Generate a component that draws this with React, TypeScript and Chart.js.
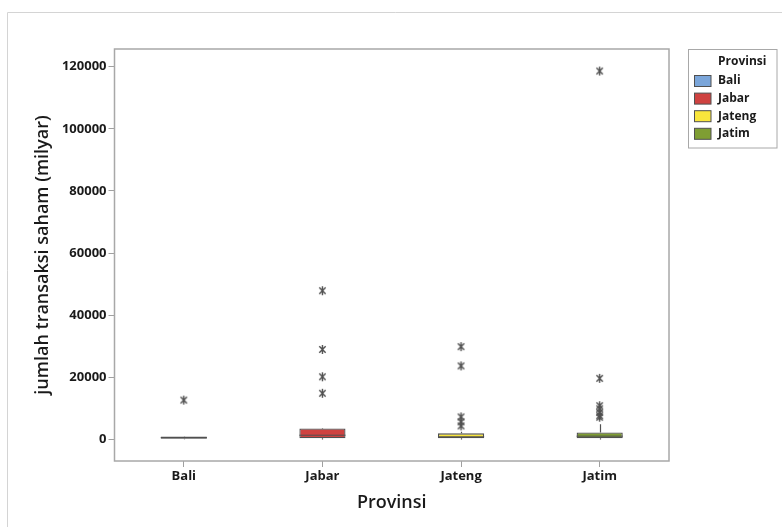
import React, { useEffect, useRef } from "react";
import { Chart, registerables } from "chart.js";

Chart.register(...registerables);

const categories = ["Bali", "Jabar", "Jateng", "Jatim"];
const boxColors = ["#7BA6DA", "#CF4240", "#F9E63C", "#7F9E33"];
const q1Values = [300, 400, 400, 400];
const medianValues = [600, 1400, 900, 1100];
const q3Values = [1000, 3600, 2000, 2300];
const whiskerLow = [100, 0, 0, 0];
const whiskerHigh = [1100, 3700, 2500, 4900];
const outliersBali = [12700];
const outliersJabar = [47900, 29000, 20200, 14900];
const outliersJateng = [29900, 23700, 7300, 5700, 4400];
const outliersJatim = [118600, 19700, 10900, 9900, 8700, 7700, 7200];
const yTickValues = [0, 20000, 40000, 60000, 80000, 100000, 120000];
const legendTitle = "Provinsi";
const xTitle = "Provinsi";
const yTitle = "jumlah transaksi saham (milyar)";

const FONT = "'Open Sans', 'Noto Sans', sans-serif";
const EDGE = "#505050";

function makeAsterisk(): HTMLCanvasElement {
  const c = document.createElement("canvas");
  c.width = 11;
  c.height = 11;
  const g = c.getContext("2d")!;
  g.strokeStyle = "#505050";
  g.lineWidth = 1.4;
  g.lineCap = "butt";
  const cx = 5.5, cy = 5.5, r = 4.5;
  g.beginPath();
  g.moveTo(cx, cy - r);
  g.lineTo(cx, cy + r);
  for (const ang of [Math.PI / 4, -Math.PI / 4]) {
    const dx = Math.cos(ang) * r, dy = Math.sin(ang) * r;
    g.moveTo(cx - dx, cy - dy);
    g.lineTo(cx + dx, cy + dy);
  }
  g.stroke();
  return c;
}

const boxExtras = {
  id: "boxExtras",
  beforeDraw(chart: any) {
    const ctx = chart.ctx;
    ctx.save();
    ctx.strokeStyle = "#d4d4d4";
    ctx.lineWidth = 1;
    ctx.beginPath();
    ctx.moveTo(7.5, 530);
    ctx.lineTo(7.5, 12.5);
    ctx.lineTo(790, 12.5);
    ctx.stroke();
    ctx.restore();
  },
  beforeDatasetsDraw(chart: any) {
    const ctx = chart.ctx;
    const y = chart.scales.y;
    const meta = chart.getDatasetMeta(0);
    ctx.save();
    ctx.strokeStyle = EDGE;
    ctx.lineWidth = 1.2;
    meta.data.forEach((bar: any, i: number) => {
      const x = Math.round(bar.x) + 0.5;
      ctx.beginPath();
      ctx.moveTo(x, y.getPixelForValue(q3Values[i]));
      ctx.lineTo(x, y.getPixelForValue(whiskerHigh[i]));
      ctx.moveTo(x, y.getPixelForValue(q1Values[i]));
      ctx.lineTo(x, y.getPixelForValue(whiskerLow[i]));
      ctx.stroke();
    });
    ctx.restore();
  },
  afterDatasetsDraw(chart: any) {
    const ctx = chart.ctx;
    const y = chart.scales.y;
    const meta = chart.getDatasetMeta(0);
    ctx.save();
    ctx.strokeStyle = EDGE;
    ctx.lineWidth = 1;
    meta.data.forEach((bar: any, i: number) => {
      const py = y.getPixelForValue(medianValues[i]);
      ctx.beginPath();
      ctx.moveTo(bar.x - bar.width / 2, py);
      ctx.lineTo(bar.x + bar.width / 2, py);
      ctx.stroke();
    });
    const a = chart.chartArea;
    ctx.strokeStyle = "#a8a8a8";
    ctx.lineWidth = 1.5;
    ctx.strokeRect(a.left, a.top, a.right - a.left, a.bottom - a.top);
    const lx = a.right + 19.5;
    const ly = a.top + 0.5;
    ctx.strokeStyle = "#a8a8a8";
    ctx.lineWidth = 1;
    ctx.strokeRect(lx, ly, 88.5, 98.5);
    ctx.fillStyle = "#1a1a1a";
    ctx.font = `bold 12px ${FONT}`;
    ctx.textBaseline = "middle";
    ctx.textAlign = "left";
    ctx.fillText(legendTitle, lx + 29.5, ly + 12);
    categories.forEach((c, i) => {
      const cy = ly + 31.5 + i * 17.6;
      ctx.fillStyle = boxColors[i];
      ctx.fillRect(lx + 6, cy - 5.5, 16.5, 11);
      ctx.strokeStyle = EDGE;
      ctx.lineWidth = 1;
      ctx.strokeRect(lx + 6, cy - 5.5, 16.5, 11);
      ctx.fillStyle = "#1a1a1a";
      ctx.fillText(c, lx + 29.5, cy);
    });
    ctx.restore();
  },
};

export default function App() {
  const ref = useRef<HTMLCanvasElement>(null);
  useEffect(() => {
    if (!ref.current) return;
    const outlierGroups = [outliersBali, outliersJabar, outliersJateng, outliersJatim];
    const outlierPoints: any[] = [];
    outlierGroups.forEach((g, i) => g.forEach((v) => outlierPoints.push({ x: categories[i], y: v })));
    const asterisk = makeAsterisk();
    const chart = new Chart(ref.current, {
      type: "bar",
      data: {
        labels: categories,
        datasets: [
          {
            type: "bar",
            data: categories.map((_, i) => [q1Values[i], q3Values[i]]) as any,
            backgroundColor: boxColors,
            borderColor: EDGE,
            borderWidth: 1.3,
            borderSkipped: false,
            barPercentage: 0.333,
            categoryPercentage: 1,
            order: 2,
          } as any,
          {
            type: "line",
            data: outlierPoints,
            showLine: false,
            pointStyle: asterisk,
            pointRadius: 5,
            order: 1,
          } as any,
        ],
      },
      plugins: [boxExtras],
      options: {
        responsive: false,
        animation: false,
        layout: { padding: { left: 0, top: 49, right: 113, bottom: 0 } },
        plugins: { legend: { display: false }, tooltip: { enabled: false } },
        scales: {
          x: {
            type: "category",
            offset: true,
            grid: { offset: false, drawOnChartArea: false, drawTicks: true, tickLength: 6, color: "#a0a0a0" },
            border: { display: false },
            ticks: { color: "#1a1a1a", font: { family: FONT, size: 13, weight: "bold" }, padding: 1 },
            title: {
              display: true,
              text: xTitle,
              color: "#1a1a1a",
              font: { family: FONT, size: 18, weight: "600" },
              padding: { top: 0, bottom: 13 },
            },
            afterFit: (s: any) => {
              s.height = 66;
            },
          },
          y: {
            type: "linear",
            min: -6900,
            max: 125700,
            afterBuildTicks: (s: any) => {
              s.ticks = yTickValues.map((v) => ({ value: v }));
            },
            grid: { drawOnChartArea: false, drawTicks: true, tickLength: 6, color: "#a0a0a0" },
            border: { display: false },
            ticks: {
              color: "#1a1a1a",
              font: { family: FONT, size: 13, weight: "bold" },
              padding: 2,
              callback: (v: any) => String(v),
            },
            title: {
              display: true,
              text: yTitle,
              color: "#1a1a1a",
              font: { family: FONT, size: 18, weight: "600" },
              padding: { top: 32, bottom: 0 },
            },
            afterFit: (s: any) => {
              s.width = 114.5;
            },
          },
        },
      },
    });
    return () => chart.destroy();
  }, []);
  return (
    <div style={{ position: "absolute", left: 0, top: 0, width: 782, height: 527, background: "#fff" }}>
      <canvas ref={ref} width={782} height={527} style={{ display: "block" }} />
    </div>
  );
}
